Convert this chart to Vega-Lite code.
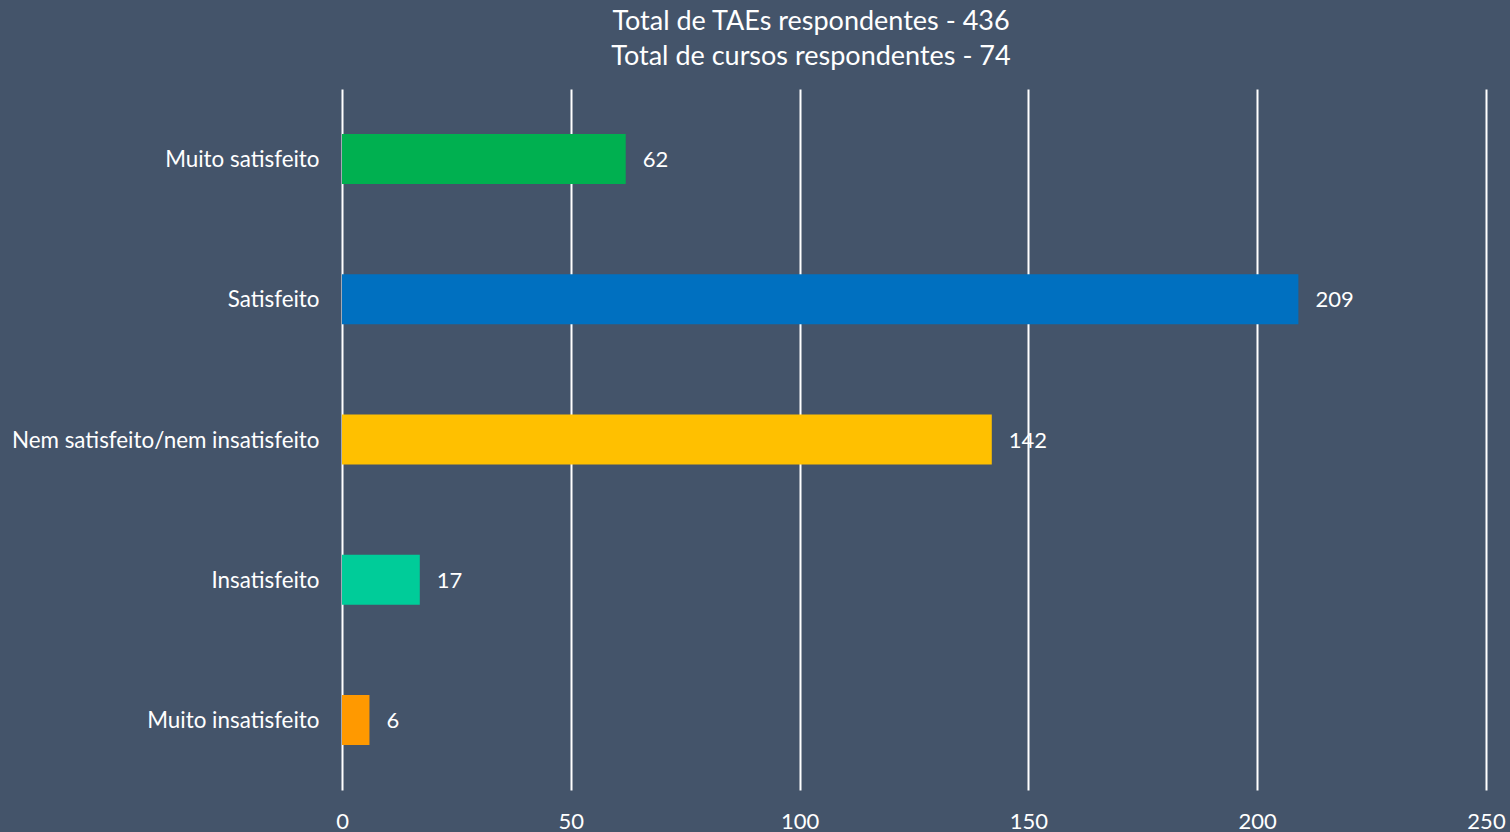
{
  "$schema": "https://vega.github.io/schema/vega-lite/v6.json",
  "autosize": "none",
  "width": 1144,
  "height": 701,
  "padding": {"left": 342, "top": 89, "right": 24, "bottom": 42},
  "background": "#44546A",
  "config": {"view": {"stroke": null}, "font": "Lato"},
  "title": {
    "text": ["Total de TAEs respondentes - 436", "Total de cursos respondentes - 74"],
    "color": "white",
    "fontSize": 27,
    "fontWeight": "normal",
    "font": "Lato",
    "anchor": "middle",
    "dx": -103,
    "offset": 18,
    "lineHeight": 35
  },
  "data": {
    "values": [
      {"categoria": "Muito satisfeito", "valor": 62},
      {"categoria": "Satisfeito", "valor": 209},
      {"categoria": "Nem satisfeito/nem insatisfeito", "valor": 142},
      {"categoria": "Insatisfeito", "valor": 17},
      {"categoria": "Muito insatisfeito", "valor": 6}
    ]
  },
  "encoding": {
    "y": {
      "field": "categoria",
      "type": "nominal",
      "sort": null,
      "scale": {"paddingInner": 0, "paddingOuter": 0},
      "axis": {
        "title": null,
        "domain": false,
        "ticks": false,
        "labelPadding": 23,
        "labelOffset": 1,
        "labelColor": "white",
        "labelFontSize": 22.4,
        "labelFont": "Lato",
        "labelLimit": 400
      }
    },
    "x": {
      "field": "valor",
      "type": "quantitative",
      "scale": {"domain": [0, 250], "nice": false},
      "axis": {
        "title": null,
        "values": [0, 50, 100, 150, 200, 250],
        "domain": false,
        "ticks": false,
        "grid": true,
        "gridColor": "white",
        "gridWidth": 2,
        "gridOpacity": 1,
        "labelPadding": 21,
        "labelColor": "white",
        "labelFontSize": 22,
        "labelFont": "Lato",
        "labelFlush": false
      }
    }
  },
  "layer": [
    {
      "mark": {"type": "bar", "size": 50},
      "encoding": {
        "color": {
          "field": "categoria",
          "type": "nominal",
          "legend": null,
          "scale": {
            "domain": ["Muito satisfeito", "Satisfeito", "Nem satisfeito/nem insatisfeito", "Insatisfeito", "Muito insatisfeito"],
            "range": ["#00B050", "#0070C0", "#FFC000", "#00CC99", "#FF9900"]
          }
        }
      }
    },
    {
      "mark": {"type": "text", "align": "left", "baseline": "middle", "dx": 17, "dy": 1, "color": "white", "fontSize": 22, "font": "Lato"},
      "encoding": {"text": {"field": "valor", "type": "quantitative"}}
    }
  ]
}
